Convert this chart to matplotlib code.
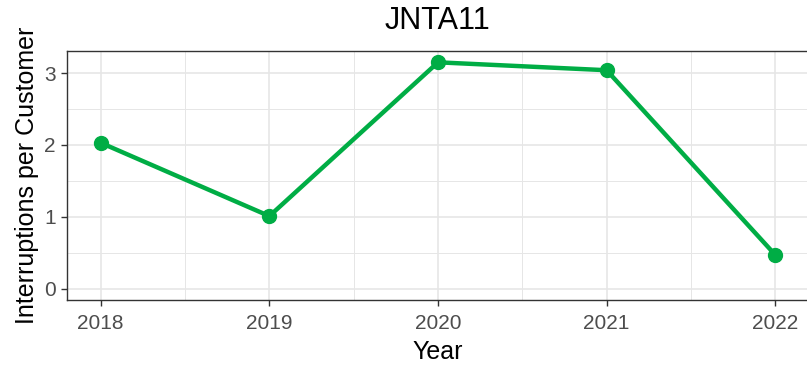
import numpy as np
import matplotlib
matplotlib.use("Agg")
import matplotlib.pyplot as plt

# data
years = [2018, 2019, 2020, 2021, 2022]
interruptions = [2.03, 1.01, 3.15, 3.04, 0.47]
y_ticks = [0, 1, 2, 3]

plt.rcParams['font.family'] = ['Liberation Sans', 'DejaVu Sans']

line_color = '#00AD45'
grid_color = '#E6E6E6'
border_color = '#333333'
tick_text_color = '#4D4D4D'

fig = plt.figure(figsize=(8.07, 3.68), dpi=100, facecolor='white')
ax = fig.add_axes([67 / 807, 68 / 368, 742 / 807, 249 / 368])

ax.plot(years, interruptions, color=line_color, linewidth=3.2,
        marker='o', markersize=10, solid_capstyle='round', zorder=3)

# ggplot-like 5% expansion, y expanded to include 0
x_span = max(years) - min(years)
ax.set_xlim(min(years) - 0.05 * x_span, max(years) + 0.05 * x_span)
y_top = max(interruptions)
ax.set_ylim(-0.05 * y_top, y_top * 1.05)

ax.set_xticks(years)
ax.set_xticklabels([str(y) for y in years])
ax.set_yticks(y_ticks)
ax.set_xticks([y + 0.5 for y in years[:-1]], minor=True)
ax.set_yticks([t + 0.5 for t in y_ticks[:-1]], minor=True)

ax.grid(True, which='major', color=grid_color, linewidth=1.2)
ax.grid(True, which='minor', color=grid_color, linewidth=0.7)
ax.set_axisbelow(True)

ax.tick_params(axis='both', which='major', length=4, width=1,
               color=border_color, labelcolor=tick_text_color,
               labelsize=15)
ax.tick_params(axis='x', which='major', pad=6)
ax.tick_params(axis='y', which='major', pad=4)
ax.tick_params(axis='both', which='minor', length=0)

for spine in ax.spines.values():
    spine.set_color(border_color)
    spine.set_linewidth(1)

ax.set_xlabel('Year', fontsize=18, labelpad=5)
ax.set_ylabel('Interruptions per Customer', fontsize=18, labelpad=4)
fig.text(0.5 * (67 + 807) / 807, 1 - 21 / 368, 'JNTA11', fontsize=22,
         ha='center', va='center')

fig.savefig('out.png', dpi=100, facecolor=fig.get_facecolor())
